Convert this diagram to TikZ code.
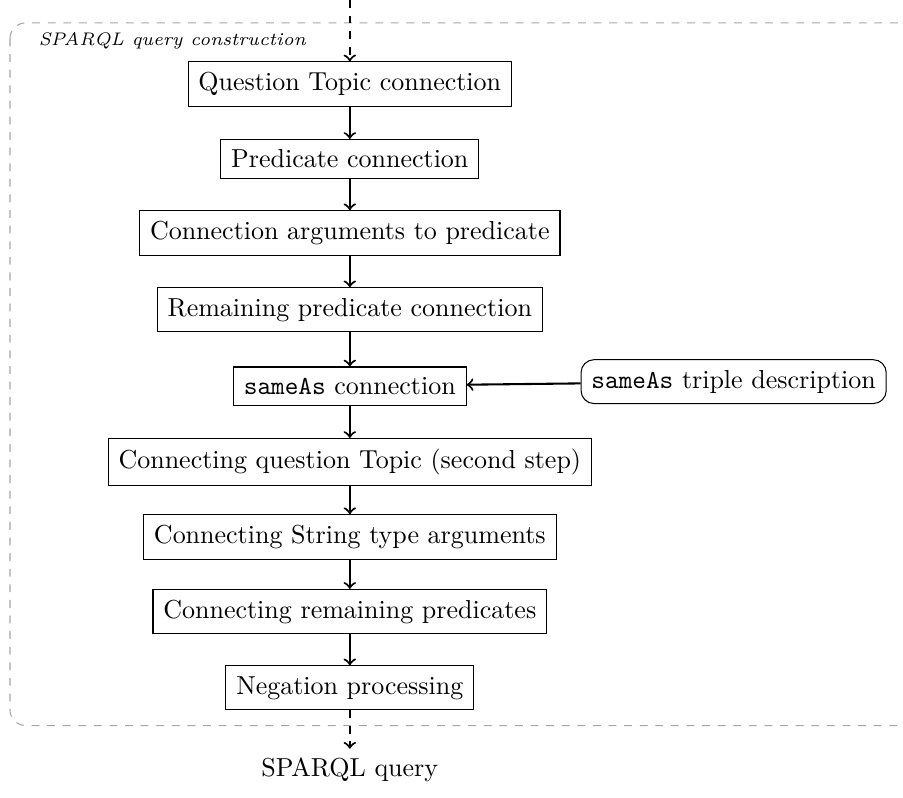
\documentclass[tikz,border=0pt]{standalone}
\usepackage{tikz}
\usetikzlibrary{positioning}

\tikzset{
    stepbox/.style={draw, rectangle, inner sep=4pt},
    notebox/.style={draw, rectangle, rounded corners=5pt, inner sep=4pt},
    flow/.style={->, thick},
    flowdash/.style={->, thick, dashed}
}

\begin{document}
\begin{tikzpicture}
    \useasboundingbox (0,0) rectangle (12.21,-10.79);

    % 虚线框
    \draw[gray!70, dashed, rounded corners=6pt] (0.135,-0.31) rectangle (12.8,-9.81);
    \node[anchor=west, font=\scriptsize\itshape] (title) at (0.4,-0.55) {SPARQL query construction};

    % 步骤
    \node[stepbox] (qtopic) at (4.73,-1.135) {Question Topic connection};
    \node[stepbox] (pred) at (4.73,-2.15) {Predicate connection};
    \node[stepbox] (args) at (4.73,-3.15) {Connection arguments to predicate};
    \node[stepbox] (rempred) at (4.73,-4.19) {Remaining predicate connection};
    \node[stepbox] (sameas) at (4.73,-5.22) {\texttt{sameAs} connection};
    \node[stepbox] (qtopic2) at (4.73,-6.245) {Connecting question Topic (second step)};
    \node[stepbox] (strargs) at (4.73,-7.26) {Connecting String type arguments};
    \node[stepbox] (rempreds) at (4.73,-8.27) {Connecting remaining predicates};
    \node[stepbox] (neg) at (4.73,-9.30) {Negation processing};
    \node (query) at (4.73,-10.41) {SPARQL query};

    % 说明
    \node[notebox] (triple) at (9.92,-5.16) {\texttt{sameAs} triple description};

    % 箭头
    \coordinate (start) at (4.73,0);
    \draw[flowdash] (start) -- (qtopic);
    \draw[flow] (qtopic) -- (pred);
    \draw[flow] (pred) -- (args);
    \draw[flow] (args) -- (rempred);
    \draw[flow] (rempred) -- (sameas);
    \draw[flow] (sameas) -- (qtopic2);
    \draw[flow] (qtopic2) -- (strargs);
    \draw[flow] (strargs) -- (rempreds);
    \draw[flow] (rempreds) -- (neg);
    \draw[flowdash] (neg) -- (query);
    \draw[flow] (triple) -- (sameas);
\end{tikzpicture}
\end{document}
